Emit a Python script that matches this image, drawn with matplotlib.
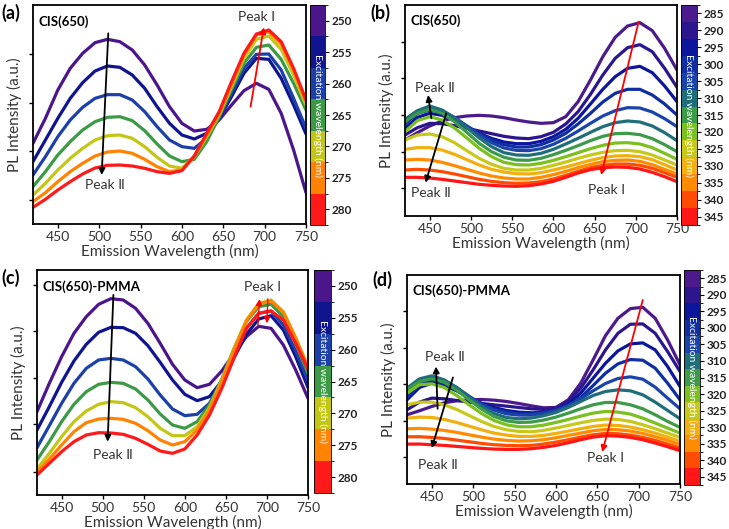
import matplotlib
matplotlib.use("Agg")
import matplotlib.pyplot as plt
import matplotlib as mpl
from matplotlib.colors import ListedColormap, BoundaryNorm
import numpy as np

plt.rcParams['font.family'] = ['Lato', 'DejaVu Sans']

wavelength = [420, 435, 450, 465, 480, 495, 510, 525, 540, 555, 570, 585,
              600, 615, 630, 645, 660, 675, 690, 705, 720, 735, 750]

exc_short = [250, 255, 260, 265, 270, 275, 280]
exc_long = [285, 290, 295, 300, 305, 310, 315, 320, 325, 330, 335, 340, 345]

colors_short = ['#4b168c', '#10158f', '#1c40a8', '#3c9a46', '#c4c616', '#ff8200', '#ff1a1a']
colors_long = ['#4b1a8c', '#2c168e', '#0c169c', '#0e2ea2', '#1a44aa', '#1f6e7a', '#3c9a48',
               '#7cc020', '#c8c81a', '#f2b010', '#ff8c00', '#ff4c00', '#ff1616']

# (a) CIS(650), excitation 250-280 nm
pl_a = [
    [242, 317, 402, 467, 512, 544, 554, 547, 522, 477, 417, 352, 302, 279, 284, 312, 357, 400, 422, 404, 332, 222, 94],
    [187, 252, 317, 377, 424, 459, 474, 470, 447, 407, 352, 302, 267, 255, 272, 317, 382, 452, 497, 494, 437, 357, 270],
    [147, 202, 262, 312, 350, 377, 388, 388, 372, 337, 292, 252, 232, 227, 257, 317, 392, 467, 509, 510, 462, 377, 287],
    [112, 157, 207, 247, 282, 307, 320, 322, 310, 280, 240, 204, 187, 194, 247, 322, 404, 482, 530, 537, 494, 422, 342],
    [87, 122, 162, 197, 227, 252, 265, 267, 257, 232, 200, 174, 167, 202, 262, 327, 412, 497, 554, 564, 524, 447, 357],
    [67, 94, 127, 157, 182, 204, 216, 219, 212, 194, 172, 157, 162, 204, 267, 332, 420, 507, 567, 577, 540, 462, 367],
    [50, 74, 102, 127, 150, 168, 176, 177, 174, 167, 157, 152, 160, 204, 272, 337, 427, 512, 570, 582, 547, 467, 372],
]

# (b) CIS(650), excitation 285-345 nm
pl_b = [
    [228, 250, 270, 285, 295, 300, 302, 300, 295, 288, 282, 278, 280, 298, 343, 408, 478, 536, 570, 580, 556, 503, 438],
    [243, 265, 278, 277, 271, 263, 255, 247, 239, 234, 232, 238, 251, 276, 313, 365, 423, 473, 505, 514, 493, 443, 386],
    [263, 296, 308, 302, 286, 266, 248, 233, 222, 217, 217, 224, 238, 260, 293, 336, 380, 418, 443, 449, 430, 390, 343],
    [276, 308, 318, 311, 293, 270, 248, 228, 214, 207, 207, 214, 228, 248, 276, 308, 342, 368, 380, 380, 363, 336, 303],
    [283, 313, 323, 315, 296, 270, 243, 220, 204, 197, 196, 202, 215, 233, 255, 278, 300, 316, 325, 324, 312, 292, 268],
    [290, 316, 330, 318, 295, 265, 234, 208, 190, 183, 182, 188, 200, 216, 233, 251, 268, 280, 285, 282, 270, 250, 226],
    [283, 308, 320, 308, 283, 251, 218, 193, 176, 168, 167, 173, 184, 197, 211, 226, 239, 247, 248, 244, 232, 214, 193],
    [253, 286, 298, 288, 264, 234, 203, 178, 161, 154, 153, 158, 167, 178, 190, 202, 212, 219, 220, 216, 205, 188, 170],
    [228, 243, 246, 238, 220, 196, 173, 155, 143, 138, 138, 143, 152, 162, 173, 183, 191, 196, 197, 193, 183, 168, 153],
    [200, 205, 205, 198, 185, 169, 153, 140, 132, 127, 126, 130, 138, 147, 157, 167, 175, 180, 181, 178, 169, 154, 138],
    [168, 170, 168, 161, 151, 140, 129, 120, 114, 111, 111, 116, 124, 134, 145, 155, 163, 167, 168, 164, 154, 140, 126],
    [138, 140, 138, 133, 126, 118, 110, 104, 100, 98, 99, 103, 111, 122, 134, 145, 152, 156, 156, 152, 143, 130, 116],
    [116, 116, 114, 110, 105, 100, 95, 92, 90, 89, 91, 96, 104, 116, 129, 139, 145, 147, 146, 141, 131, 118, 103],
]

# (c) CIS(650)-PMMA, excitation 250-280 nm
pl_c = [
    [250, 335, 415, 485, 535, 572, 589, 585, 560, 515, 455, 392, 345, 322, 332, 372, 425, 475, 506, 500, 450, 375, 290],
    [195, 265, 338, 402, 452, 488, 503, 502, 485, 448, 398, 345, 302, 283, 295, 342, 412, 482, 528, 538, 495, 415, 322],
    [142, 208, 275, 335, 380, 405, 410, 405, 385, 348, 300, 258, 238, 242, 275, 340, 422, 500, 545, 552, 510, 432, 345],
    [105, 160, 220, 272, 310, 332, 338, 335, 318, 285, 243, 210, 200, 220, 270, 348, 440, 520, 565, 572, 535, 455, 365],
    [78, 125, 175, 220, 252, 272, 280, 277, 262, 235, 200, 178, 178, 205, 262, 345, 440, 525, 575, 585, 550, 472, 382],
    [68, 108, 150, 190, 217, 228, 230, 227, 215, 193, 165, 150, 160, 195, 255, 340, 435, 522, 573, 582, 548, 470, 385],
    [60, 95, 130, 160, 180, 187, 186, 182, 170, 152, 132, 125, 138, 180, 240, 320, 412, 500, 545, 552, 525, 455, 378],
]

# (d) CIS(650)-PMMA, excitation 285-345 nm
pl_d = [
    [208, 220, 233, 244, 250, 253, 254, 252, 248, 242, 235, 229, 230, 253, 303, 373, 446, 498, 527, 531, 498, 433, 358],
    [223, 246, 258, 256, 251, 246, 242, 238, 234, 230, 226, 224, 228, 248, 288, 343, 403, 453, 480, 481, 453, 398, 338],
    [253, 290, 303, 296, 280, 260, 243, 230, 221, 216, 214, 215, 221, 240, 273, 318, 363, 400, 421, 424, 403, 353, 293],
    [260, 298, 310, 302, 283, 260, 240, 225, 216, 211, 211, 214, 221, 235, 260, 296, 333, 361, 374, 372, 348, 303, 253],
    [270, 306, 318, 310, 290, 264, 240, 222, 211, 207, 207, 212, 221, 236, 256, 280, 302, 317, 322, 315, 291, 258, 226],
    [288, 316, 325, 313, 290, 261, 233, 212, 200, 196, 198, 205, 215, 230, 248, 266, 278, 283, 280, 268, 246, 221, 196],
    [283, 308, 316, 306, 282, 253, 225, 203, 190, 185, 186, 192, 201, 213, 226, 238, 245, 245, 238, 226, 208, 188, 170],
    [273, 298, 301, 290, 266, 238, 212, 191, 178, 172, 172, 177, 185, 194, 204, 213, 218, 216, 210, 198, 183, 168, 153],
    [238, 246, 246, 238, 224, 206, 188, 173, 163, 158, 157, 161, 168, 176, 184, 191, 195, 194, 188, 178, 166, 153, 140],
    [198, 201, 200, 194, 185, 174, 163, 153, 147, 143, 143, 146, 152, 159, 166, 173, 177, 176, 171, 163, 153, 141, 128],
    [166, 167, 165, 161, 155, 148, 141, 135, 131, 129, 130, 133, 139, 146, 153, 160, 164, 163, 159, 152, 142, 131, 118],
    [142, 142, 140, 137, 132, 127, 122, 118, 116, 115, 116, 120, 126, 133, 141, 148, 152, 151, 147, 140, 131, 120, 108],
    [120, 120, 118, 116, 113, 110, 107, 105, 104, 104, 106, 110, 116, 124, 133, 141, 145, 144, 140, 133, 123, 112, 100],
]

W, H = 729, 529
fig = plt.figure(figsize=(W / 100, H / 100), dpi=100)


def box(l, t, r, b):
    return [l / W, 1 - b / H, (r - l) / W, (b - t) / H]


def arrow(ax, start, end, color, lw=1.3):
    ax.annotate('', xy=end, xytext=start,
                arrowprops=dict(arrowstyle='-|>', color=color, lw=lw,
                                mutation_scale=9, shrinkA=0, shrinkB=0))


def peak_text(ax, x, y, s):
    ax.text(x, y, s, ha='center', va='center', fontsize=10, color='#333333')


def panel(axbox, cbox, curves, exc, colors, top, yticks, name, tag, tagxy):
    ax = fig.add_axes(axbox)
    for spec, c in zip(curves, colors):
        ax.plot(wavelength, spec, color=c, lw=2.3, solid_capstyle='round',
                solid_joinstyle='round')
    ax.set_xlim(420, 750)
    ax.set_ylim(0, top)
    ax.set_xticks([450, 500, 550, 600, 650, 700, 750])
    ax.set_yticks(yticks)
    ax.set_yticklabels([])
    ax.tick_params(direction='out', length=3, width=1, labelsize=10, pad=2,
                   labelcolor='#333333')
    for s in ax.spines.values():
        s.set_linewidth(1.3)
    ax.set_xlabel('Emission Wavelength (nm)', fontsize=11, labelpad=1, color='#333333')
    ax.set_ylabel('PL Intensity (a.u.)', fontsize=11, labelpad=3, color='#333333')
    ax.text(0.02, 0.955, name, transform=ax.transAxes, fontsize=9.5,
            fontweight='bold', ha='left', va='top')
    fig.text(tagxy[0] / W, 1 - tagxy[1] / H, tag, fontsize=13, fontweight='bold',
             ha='left', va='baseline')

    cax = fig.add_axes(cbox)
    bounds = [exc[0] - 2.5] + [e + 2.5 for e in exc]
    cmap = ListedColormap(colors)
    norm = BoundaryNorm(bounds, cmap.N)
    cb = mpl.colorbar.ColorbarBase(cax, cmap=cmap, norm=norm, ticks=exc)
    cb.outline.set_linewidth(0.6)
    cax.invert_yaxis()
    cax.tick_params(length=3, width=0.8, labelsize=8.5, pad=1.5)
    for lab in cax.get_yticklabels():
        lab.set_fontweight('bold')
        lab.set_color('#222222')
    cax.text(0.5, 0.5, 'Excitation wavelength (nm)', transform=cax.transAxes,
             rotation=-90, color='white', ha='center', va='center', fontsize=7.5)
    return ax


ax_a = panel(box(33, 5, 306, 224), box(310, 5, 325, 225), pl_a, exc_short, colors_short,
             657, [72, 218, 364, 510], 'CIS(650)', '(a)', (1, 19))
arrow(ax_a, (511, 572), (503, 147), 'black')
peak_text(ax_a, 507, 117, 'Peak Ⅱ')
arrow(ax_a, (683, 352), (699, 590), 'red')
peak_text(ax_a, 690, 622, 'Peak Ⅰ')

ax_b = panel(box(405, 5, 677, 216), box(681, 5, 697, 225), pl_b, exc_long, colors_long,
             633, [83, 193, 303, 413, 523], 'CIS(650)', '(b)', (370, 19))
arrow(ax_b, (452, 293), (448, 363), 'black')
arrow(ax_b, (470, 308), (445, 100), 'black')
peak_text(ax_b, 456, 383, 'Peak Ⅱ')
peak_text(ax_b, 452, 70, 'Peak Ⅱ')
arrow(ax_b, (703.5, 583), (658, 123), 'red')
peak_text(ax_b, 664, 78, 'Peak Ⅰ')

ax_c = panel(box(37, 270, 308, 495), box(314, 270, 331, 493), pl_c, exc_short, colors_short,
             675, [70, 212, 352, 492, 630], 'CIS(650)-PMMA', '(c)', (1, 284))
arrow(ax_c, (513, 600), (506, 160), 'black')
peak_text(ax_c, 513, 120, 'Peak Ⅱ')
arrow(ax_c, (689, 510), (691, 588), 'red', lw=1)
arrow(ax_c, (701, 588), (700, 515), 'red', lw=1)
peak_text(ax_c, 695, 625, 'Peak Ⅰ')

ax_d = panel(box(407, 275, 680, 484), box(684, 270, 700, 485), pl_d, exc_long, colors_long,
             628, [80, 190, 300, 410, 521], 'CIS(650)-PMMA', '(d)', (372, 286))
arrow(ax_d, (457, 226), (455, 353), 'black')
arrow(ax_d, (475.5, 320), (450, 108), 'black')
peak_text(ax_d, 466, 383, 'Peak Ⅱ')
peak_text(ax_d, 458, 56, 'Peak Ⅱ')
arrow(ax_d, (705, 553), (656, 96), 'red')
peak_text(ax_d, 660, 78, 'Peak Ⅰ')

fig.savefig('out.png', dpi=100)
